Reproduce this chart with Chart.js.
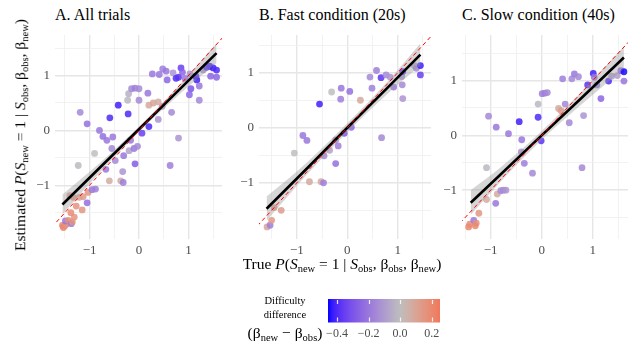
<!DOCTYPE html>
<html>
<head>
<meta charset="utf-8">
<script src="https://cdn.jsdelivr.net/npm/chart.js@4.4.1/dist/chart.umd.min.js"></script>
<style>
  body { margin: 0; width: 632px; height: 347px; background: #fff; position: relative; overflow: hidden;
         font-family: "Liberation Serif", "DejaVu Serif", serif; }
  canvas { position: absolute; }
  .txt { position: absolute; white-space: nowrap; color: #000; line-height: 1; }
  .title { font-size: 16px; }
  .axt { font-size: 15.5px; }
  sub { font-size: 68%; vertical-align: -0.25em; line-height: 0; }
  .leg { font-size: 10.5px; text-align: center; }
</style>
</head>
<body>
<div class="txt title" style="left:55px; top:7px;">A. All trials</div>
<div class="txt title" style="left:259px; top:7px;">B. Fast condition (20s)</div>
<div class="txt title" style="left:462px; top:7px;">C. Slow condition (40s)</div>

<canvas id="panelA" width="196" height="231" style="left:30px; top:31px;"></canvas>
<canvas id="panelB" width="203" height="231" style="left:232px; top:31px;"></canvas>
<canvas id="panelC" width="196" height="231" style="left:436px; top:31px;"></canvas>

<div class="txt axt" id="ytitle" style="left:20px; top:135px; transform: translate(-50%,-50%) rotate(-90deg);">
  Estimated <i>P</i>(<i>S</i><sub>new</sub> = 1 | <i>S</i><sub>obs</sub>, β<sub>obs</sub>, β<sub>new</sub>)</div>
<div class="txt axt" id="xtitle" style="left:342px; top:264px; transform: translate(-50%,-50%);">
  True <i>P</i>(<i>S</i><sub>new</sub> = 1 | <i>S</i><sub>obs</sub>, β<sub>obs</sub>, β<sub>new</sub>)</div>

<div class="txt leg" style="left:285px; top:301px; transform: translate(-50%,-50%);">Difficulty</div>
<div class="txt leg" style="left:285px; top:315px; transform: translate(-50%,-50%);">difference</div>
<div class="txt axt" style="left:285px; top:333px; transform: translate(-50%,-50%);">(β<sub>new</sub> − β<sub>obs</sub>)</div>
<canvas id="colorbar" width="142" height="46" style="left:318px; top:299px;"></canvas>

<script>
// ---- data ----
// A. all trials
const allX = [-1.55,-1.53,-1.50,-1.47,-1.49,-1.43,-1.37,-1.35,-1.31,-1.38,-1.27,-1.15,-1.05,-1.40,-1.33,-1.21,-1.13,-1.03,-0.95,-0.88,
  -1.23,-0.90,-1.19,-1.05,-0.80,-0.73,-0.65,-0.53,-0.55,-0.59,-0.42,-0.22,-0.48,-0.67,-0.60,-0.37,-0.32,-0.33,-0.31,-0.20,
  -0.10,-0.03,-0.08,-0.17,0.06,0.20,0.39,0.47,0.66,0.63,0.80,0.20,0.29,0.39,-0.23,-0.21,-0.15,-0.08,0.00,0.18,
  0.00,0.27,0.41,0.48,0.55,0.69,0.57,0.75,0.80,0.85,0.88,0.93,1.03,1.15,1.17,1.22,1.05,1.02,1.22,1.30,
  1.43,1.50,1.57,1.45,1.57,1.37];
const allY = [-1.73,-1.77,-1.74,-1.71,-1.65,-1.64,-1.70,-1.67,-1.58,-1.50,-1.38,-1.45,-1.32,-1.19,-1.22,-1.22,-1.21,-1.13,-1.08,-1.07,
  -0.64,-0.42,0.33,0.12,0.00,-0.11,-0.18,-0.12,-0.33,0.23,0.46,0.30,-0.55,-0.71,-0.92,-0.92,-0.95,-0.75,-0.46,-0.37,
  -0.33,-0.29,-0.61,-0.18,-0.05,0.07,0.20,0.44,0.33,-0.64,-0.14,0.46,0.50,0.52,0.55,0.67,0.76,0.77,0.76,0.68,
  0.55,1.03,1.02,1.12,1.08,1.05,0.92,0.95,0.97,1.14,1.06,0.95,1.03,0.99,0.92,0.81,0.76,0.65,0.55,1.10,
  1.17,1.14,1.10,0.99,0.97,1.15];
const allDiff = [0.20,0.22,0.18,0.15,-0.20,0.17,-0.20,0.16,0.15,0.18,0.16,0.15,-0.22,0.10,0.14,0.10,0.12,0.15,-0.20,-0.18,
  -0.01,0.00,-0.15,-0.22,-0.20,-0.22,-0.20,-0.20,-0.15,-0.40,-0.42,-0.40,-0.15,-0.20,0.07,0.07,-0.18,-0.12,-0.20,-0.08,
  -0.20,-0.15,-0.28,-0.20,-0.35,-0.40,-0.12,-0.12,-0.15,-0.18,-0.12,0.08,0.10,0.07,-0.02,-0.04,-0.15,-0.18,-0.15,-0.20,
  -0.15,-0.20,-0.20,-0.18,-0.20,-0.12,-0.25,-0.40,-0.38,-0.35,-0.25,-0.20,-0.12,-0.40,-0.42,-0.20,-0.30,-0.25,-0.15,-0.12,
  -0.42,-0.42,-0.40,-0.25,-0.25,-0.38];
const allFitX = [-1.55, -0.80, 0.00, 0.80, 1.57];
const allFitY = [-1.35, -0.686, 0.022, 0.730, 1.41];
const allFitHi = [-1.17, -0.60, 0.07, 0.81, 1.59];
const allFitLo = [-1.53, -0.77, -0.03, 0.645, 1.23];

// B. fast condition (20s)
const fastX = [-1.59,-1.53,-1.50,-1.45,-1.31,-1.05,-0.88,-0.80,-0.75,-0.52,-0.47,-0.46,-0.35,-0.23,-0.18,-0.23,-0.06,0.08,-0.55,-0.31,
  -0.12,-0.13,0.05,0.26,0.45,0.49,0.58,0.67,0.68,0.77,0.85,0.92,1.08,1.10,1.09,1.10,1.33,1.37,1.45,1.45];
const fastY = [-1.80,-1.77,-1.68,-1.45,-1.50,-0.46,-0.14,-0.23,-0.98,-0.98,-1.00,-0.51,-0.41,-0.22,-0.33,-0.65,-0.10,0.01,0.43,0.65,
  0.72,0.52,0.66,0.50,0.92,0.72,1.04,0.91,-0.18,0.96,0.92,0.74,0.93,1.02,0.78,0.53,1.13,1.08,1.13,0.96];
const fastDiff = [0.10,-0.18,0.14,0.12,0.12,0.00,-0.20,-0.20,0.08,0.08,-0.18,-0.15,-0.08,-0.12,-0.18,-0.22,-0.30,-0.25,-0.42,0.00,
  -0.20,-0.18,-0.22,0.08,-0.15,-0.18,-0.18,-0.38,-0.15,-0.15,-0.12,-0.20,-0.12,-0.38,-0.15,-0.12,-0.08,-0.15,-0.42,-0.35];
const fastFitX = [-1.60, -0.80, 0.00, 0.80, 1.45];
const fastFitY = [-1.47, -0.74, 0.00, 0.73, 1.33];
const fastFitHi = [-1.25, -0.63, 0.08, 0.84, 1.53];
const fastFitLo = [-1.69, -0.85, -0.08, 0.62, 1.13];

// C. slow condition (40s)
const slowX = [-1.43,-1.41,-1.33,-1.28,-1.30,-1.23,-1.08,-1.08,-1.04,-0.89,-0.90,-0.87,-0.80,-0.75,-0.70,-0.65,-0.44,-0.39,-0.40,-0.34,
  -0.18,-0.07,-0.07,-0.01,0.01,0.06,0.11,0.33,0.38,0.46,0.54,0.41,0.59,0.64,0.72,0.82,0.79,0.90,1.01,1.03,
  1.08,1.16,1.31,1.37,1.48,1.55,1.61,1.61];
const slowY = [-1.67,-1.62,-1.55,-1.60,-1.65,-1.42,-0.59,-1.17,0.35,0.15,-1.24,-1.07,-1.01,-1.00,-1.00,0.03,0.25,-0.08,-0.30,-0.51,
  -0.69,0.57,0.33,-0.10,0.76,0.77,0.78,0.49,0.45,0.57,0.23,1.03,1.03,1.12,1.07,0.36,-0.59,0.92,1.13,1.06,
  0.92,0.67,0.99,1.08,1.09,1.18,1.16,0.99];
const slowDiff = [0.20,0.18,-0.20,0.17,0.20,0.15,-0.02,0.07,-0.15,-0.20,-0.20,0.08,-0.15,-0.15,-0.12,-0.20,-0.42,-0.20,-0.12,-0.18,
  -0.15,-0.02,-0.40,-0.38,-0.18,-0.18,-0.15,0.08,0.12,-0.15,-0.15,-0.18,-0.15,-0.20,-0.15,-0.12,-0.15,-0.38,-0.42,-0.20,
  -0.20,-0.25,-0.40,-0.10,-0.10,-0.22,-0.45,-0.20];
const slowFitX = [-1.39, -0.80, 0.00, 0.80, 1.61];
const slowFitY = [-1.23, -0.71, 0.00, 0.70, 1.42];
const slowFitHi = [-1.00, -0.58, 0.08, 0.82, 1.62];
const slowFitLo = [-1.45, -0.84, -0.08, 0.58, 1.22];

// axis limits of each panel [min, max]
const allXRange = [-1.70, 1.68], allYRange = [-1.98, 1.74];
const fastXRange = [-1.75, 1.66], fastYRange = [-2.02, 1.685];
const slowXRange = [-1.56, 1.69], slowYRange = [-1.89, 1.83];

const gridTicks = [-1.5, -1, -0.5, 0, 0.5, 1, 1.5];
const identityLine = [-3, 3];
const diffRange = [-0.457, 0.253];
const diffTicks = [-0.4, -0.2, 0, 0.2];

// ---- colour scale: blue - grey - red, interpolated in Lab, midpoint 0 ----
function lin(c) { c /= 255; return c <= 0.04045 ? c / 12.92 : Math.pow((c + 0.055) / 1.055, 2.4); }
function rgbToLab(rgb) {
  const [r, g, b] = rgb.map(lin);
  const X = (0.4124 * r + 0.3576 * g + 0.1805 * b) / 0.95047;
  const Y = 0.2126 * r + 0.7152 * g + 0.0722 * b;
  const Z = (0.0193 * r + 0.1192 * g + 0.9505 * b) / 1.08883;
  const f = t => t > 0.008856 ? Math.cbrt(t) : 7.787 * t + 16 / 116;
  return [116 * f(Y) - 16, 500 * (f(X) - f(Y)), 200 * (f(Y) - f(Z))];
}
function labToRgb([L, a, b]) {
  const fy = (L + 16) / 116, fx = fy + a / 500, fz = fy - b / 200;
  const inv = t => t * t * t > 0.008856 ? t * t * t : (t - 16 / 116) / 7.787;
  const X = inv(fx) * 0.95047, Y = inv(fy), Z = inv(fz) * 1.08883;
  const r = 3.2406 * X - 1.5372 * Y - 0.4986 * Z;
  const g = -0.9689 * X + 1.8758 * Y + 0.0415 * Z;
  const bb = 0.0557 * X - 0.2040 * Y + 1.0570 * Z;
  const gam = c => {
    c = c <= 0.0031308 ? 12.92 * c : 1.055 * Math.pow(c, 1 / 2.4) - 0.055;
    return Math.round(255 * Math.min(1, Math.max(0, c)));
  };
  return [gam(r), gam(g), gam(bb)];
}
const LOW = rgbToLab([0, 0, 255]), MID = rgbToLab([190, 190, 190]), HIGH = rgbToLab([255, 0, 0]);
const halfSpan = Math.max(Math.abs(diffRange[0]), Math.abs(diffRange[1]));

function diffColor(v, alpha) {
  const t = Math.min(1, Math.max(0, v / (2 * halfSpan) + 0.5));
  const [p, q, f] = t < 0.5 ? [LOW, MID, t / 0.5] : [MID, HIGH, (t - 0.5) / 0.5];
  const [r, g, b] = labToRgb(p.map((c, i) => c + (q[i] - c) * f));
  return `rgba(${r},${g},${b},${alpha})`;
}

// ---- panels ----
const FONT = '"Liberation Serif", "DejaVu Serif", serif';
const minus = v => (v < 0 ? '\u2212' : '') + Math.abs(v);

// fixed axis size, and no extra padding from the tick labels,
// so the plot area sits exactly where the canvas says
function fixSize(s, isX, size) {
  if (isX) s.height = size; else s.width = size;
  s.paddingTop = s.paddingBottom = s.paddingLeft = s.paddingRight = 0;
}

function axisOpts(range, isX, size) {
  return {
    type: 'linear',
    min: range[0],
    max: range[1],
    afterBuildTicks: s => { s.ticks = gridTicks.map(v => ({ value: v })); },
    afterFit: s => fixSize(s, isX, size),
    grid: {
      drawTicks: false,
      color: c => Number.isInteger(c.tick.value) ? '#e6e6e6' : '#efefef',
      lineWidth: c => Number.isInteger(c.tick.value) ? 1.4 : 0.8
    },
    border: { display: false },
    ticks: {
      autoSkip: false,
      maxRotation: 0,
      padding: isX ? 4 : 5,
      color: '#4d4d4d',
      font: { family: FONT, size: 13 },
      callback: v => Number.isInteger(v) ? minus(v) : ''
    }
  };
}

function makePanel(id, xs, ys, diffs, fitX, fitY, fitHi, fitLo, xRange, yRange, yAxisWidth, padRight) {
  const pts = xs.map((x, i) => ({ x: x, y: ys[i] }));
  const toXY = arr => fitX.map((x, i) => ({ x: x, y: arr[i] }));
  new Chart(document.getElementById(id), {
    type: 'scatter',
    data: {
      datasets: [
        {
          type: 'scatter', data: pts, order: 4,
          backgroundColor: diffs.map(d => diffColor(d, 0.85)),
          borderWidth: 0, pointRadius: 3.4
        },
        {
          type: 'line', data: toXY(fitHi), order: 3, borderWidth: 0, pointRadius: 0,
          fill: false, cubicInterpolationMode: 'monotone'
        },
        {
          type: 'line', data: toXY(fitLo), order: 3, borderWidth: 0, pointRadius: 0,
          fill: '-1', backgroundColor: 'rgba(153,153,153,0.4)', cubicInterpolationMode: 'monotone'
        },
        {
          type: 'line', data: toXY(fitY), order: 2, borderColor: '#000', borderWidth: 2.6,
          pointRadius: 0, fill: false, clip: 0
        },
        {
          type: 'line', data: identityLine.map(v => ({ x: v, y: v })), order: 1,
          borderColor: '#ff0000', borderWidth: 1, borderDash: [4, 3], pointRadius: 0, fill: false, clip: 0
        }
      ]
    },
    options: {
      responsive: false,
      animation: false,
      layout: { padding: { top: 0, left: 0, bottom: 0, right: padRight } },
      plugins: { legend: { display: false }, tooltip: { enabled: false } },
      scales: {
        x: axisOpts(xRange, true, 23),
        y: axisOpts(yRange, false, yAxisWidth)
      }
    }
  });
}

makePanel('panelA', allX, allY, allDiff, allFitX, allFitY, allFitHi, allFitLo, allXRange, allYRange, 25, 2);
makePanel('panelB', fastX, fastY, fastDiff, fastFitX, fastFitY, fastFitHi, fastFitLo, fastXRange, fastYRange, 27, 2);
makePanel('panelC', slowX, slowY, slowDiff, slowFitX, slowFitY, slowFitHi, slowFitLo, slowXRange, slowYRange, 26, 2);

// ---- colour bar legend ----
const colorbarFill = {
  id: 'colorbarFill',
  beforeDatasetsDraw(chart) {
    const { ctx, chartArea: a, scales: { x } } = chart;
    const grad = ctx.createLinearGradient(a.left, 0, a.right, 0);
    for (let i = 0; i <= 30; i++) {
      const v = diffRange[0] + (diffRange[1] - diffRange[0]) * i / 30;
      grad.addColorStop(i / 30, diffColor(v, 1));
    }
    ctx.save();
    ctx.fillStyle = grad;
    ctx.fillRect(a.left, a.top, a.right - a.left, a.bottom - a.top);
    ctx.strokeStyle = 'rgba(255,255,255,0.85)';
    ctx.lineWidth = 1.2;
    diffTicks.forEach(v => {
      const px = Math.round(x.getPixelForValue(v)) + 0.5;
      ctx.beginPath();
      ctx.moveTo(px, a.top + 1); ctx.lineTo(px, a.top + 5);
      ctx.moveTo(px, a.bottom - 5); ctx.lineTo(px, a.bottom - 1);
      ctx.stroke();
    });
    ctx.restore();
  }
};

new Chart(document.getElementById('colorbar'), {
  type: 'scatter',
  data: { datasets: [] },
  plugins: [colorbarFill],
  options: {
    responsive: false,
    animation: false,
    layout: { padding: { left: 10, right: 20, top: 0, bottom: 0 } },
    plugins: { legend: { display: false }, tooltip: { enabled: false } },
    scales: {
      x: {
        type: 'linear', min: diffRange[0], max: diffRange[1],
        afterBuildTicks: s => { s.ticks = diffTicks.map(v => ({ value: v })); },
        afterFit: s => fixSize(s, true, 22.5),
        grid: { display: false, drawTicks: false },
        border: { display: false },
        ticks: {
          autoSkip: false, maxRotation: 0, padding: 4, color: '#4d4d4d',
          font: { family: FONT, size: 12 },
          callback: v => (v < 0 ? '\u2212' : '') + Math.abs(v).toFixed(1)
        }
      },
      y: { display: false, min: 0, max: 1 }
    }
  }
});
</script>
</body>
</html>
